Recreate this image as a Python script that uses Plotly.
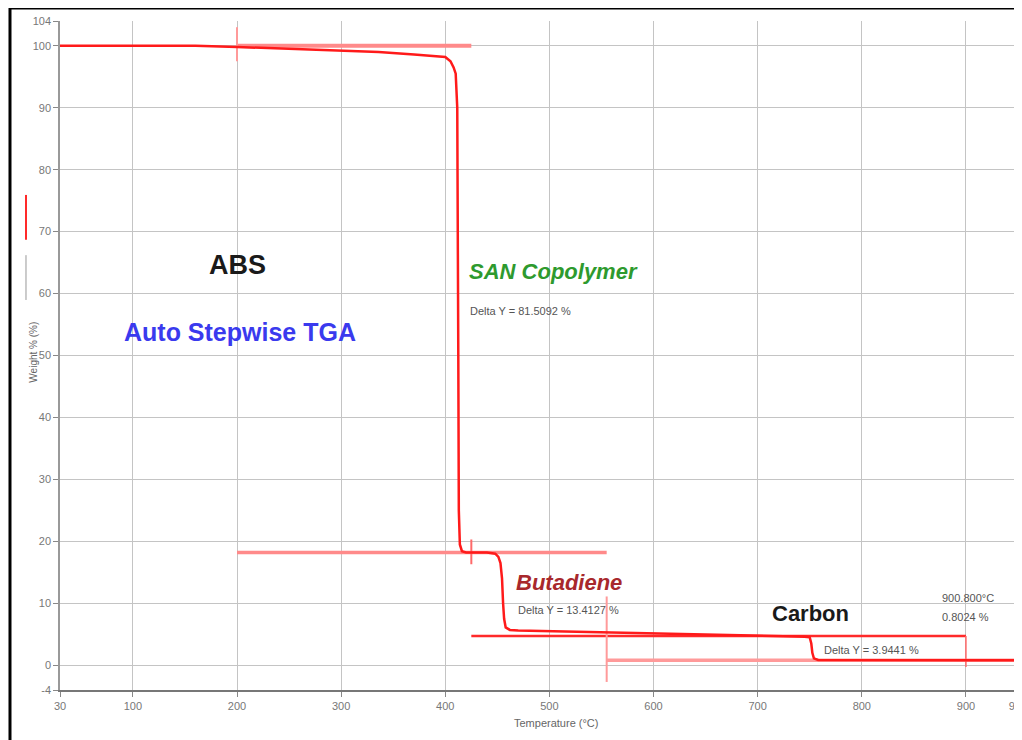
import plotly.graph_objects as go

# ---- data ----
temp_c = [30, 100, 160, 200, 250, 300, 336, 370, 400, 405, 408, 410, 411.5, 412.5, 413, 414, 416,
          420, 440, 448, 451, 453, 454.5, 455.5, 456.5, 458, 462, 470, 500, 550, 600, 650,
          700, 745, 750, 751.5, 752.5, 754, 758, 800, 900, 950]
weight_pct = [100, 100, 100, 99.8, 99.5, 99.2, 99.0, 98.6, 98.2, 97.5, 96.5, 95.5, 90, 50, 25, 19.5, 18.4,
              18.2, 18.2, 18.0, 17.5, 16.5, 14, 10, 7.5, 6.1, 5.7, 5.6, 5.5, 5.3, 5.1, 4.9,
              4.8, 4.6, 4.5, 3.5, 2.0, 1.1, 0.85, 0.8, 0.8, 0.8]

# step-analysis helper lines: (x list, y list, colour, width)
step_x = [[200, 425], [200, 200], [200, 555], [425, 425], [425, 900], [555, 555], [555, 950], [900, 900]]
step_y = [[100, 100], [97.5, 103], [18.2, 18.2], [16.3, 20.3], [4.7, 4.7], [-2.7, 11.1], [0.8, 0.8], [4.7, -0.3]]
step_color = ["#ff8a8a", "#ff9a9a", "#ff8a8a", "#ff6a6a", "#ff2a2a", "#ff9a9a", "#ff9a9a", "#ff6a6a"]
step_width = [4, 2, 3.5, 2, 2.5, 2, 3.5, 1.5]

x_ticks = [30, 100, 200, 300, 400, 500, 600, 700, 800, 900, 950]
y_ticks = [-4, 0, 10, 20, 30, 40, 50, 60, 70, 80, 90, 100, 104]

labels = [
    # text, x, y, size, colour, bold, italic, anchor
    ("ABS", 200, 64.6, 27, "#1a1a1a", True, False, "center"),
    ("Auto Stepwise TGA", 203, 53.8, 25, "#3a3aee", True, False, "center"),
    ("SAN Copolymer", 504, 63.5, 22, "#2e9a2e", True, True, "center"),
    ("Delta Y = 81.5092 %", 421.8, 57.2, 11, "#555555", False, False, "left"),
    ("Butadiene", 519, 13.3, 22, "#a8282c", True, True, "center"),
    ("Delta Y = 13.4127 %", 467.9, 8.9, 11, "#555555", False, False, "left"),
    ("Carbon", 751, 8.4, 22, "#1a1a1a", True, False, "center"),
    ("Delta Y = 3.9441 %", 761.8, 2.5, 11, "#555555", False, False, "left"),
    ("900.800°C", 875, 10.8, 11, "#555555", False, False, "left"),
    ("0.8024 %", 875, 7.8, 11, "#555555", False, False, "left"),
]

fig = go.Figure()

for xs, ys, c, w in zip(step_x, step_y, step_color, step_width):
    fig.add_trace(go.Scatter(x=xs, y=ys, mode="lines", line=dict(color=c, width=w),
                             showlegend=False, hoverinfo="skip"))

fig.add_trace(go.Scatter(x=temp_c, y=weight_pct, mode="lines",
                         line=dict(color="#ff1a1a", width=2.5), showlegend=False))

for t, x, y, s, c, b, it, anc in labels:
    txt = t
    if b:
        txt = "<b>" + txt + "</b>"
    if it:
        txt = "<i>" + txt + "</i>"
    fig.add_annotation(x=x, y=y, xref="x", yref="y", text=txt, showarrow=False,
                       xanchor=anc, yanchor="middle",
                       font=dict(family="Liberation Sans, Arial", size=s, color=c))

# axis titles
fig.add_annotation(x=0.518, y=-0.061, xref="paper", yref="paper", text="Temperature (°C)",
                   showarrow=False, font=dict(family="Liberation Sans", size=11, color="#666"))
fig.add_annotation(x=-0.0355, y=0.505, xref="paper", yref="paper", text="Weight % (%)",
                   textangle=-90, showarrow=False,
                   font=dict(family="Liberation Sans", size=10, color="#666"))

# legend-like marks beside the y title
fig.add_shape(type="line", xref="paper", yref="paper", x0=-0.0355, x1=-0.0355, y0=0.673, y1=0.740,
              line=dict(color="#ff2a2a", width=2))
fig.add_shape(type="line", xref="paper", yref="paper", x0=-0.0355, x1=-0.0355, y0=0.583, y1=0.650,
              line=dict(color="#999", width=1))
# outer frame
fig.add_shape(type="rect", xref="paper", yref="paper", x0=-0.0522, x1=1.0035, y0=-0.09, y1=1.0194,
              line=dict(color="black", width=3))

fig.update_xaxes(range=[30, 950], tickvals=x_ticks, ticktext=[str(v) for v in x_ticks],
                 showgrid=True, gridcolor="#c4c4c4", gridwidth=1,
                 showline=True, linecolor="#777", linewidth=2, automargin=False,
                 ticks="outside", ticklen=5, tickcolor="#888", ticklabeloverflow="allow",
                 tickfont=dict(family="Liberation Sans", size=11, color="#777"), zeroline=False)
fig.update_yaxes(range=[-4, 104], tickvals=y_ticks, ticktext=[str(v) for v in y_ticks],
                 showgrid=True, gridcolor="#c4c4c4", gridwidth=1,
                 showline=True, linecolor="#999", linewidth=1.5, automargin=False,
                 ticks="outside", ticklen=5, tickcolor="#888",
                 tickfont=dict(family="Liberation Sans", size=11, color="#777"), zeroline=False)

fig.update_layout(width=1014, height=732, margin=dict(l=52, r=4, t=13, b=50),
                  paper_bgcolor="white", plot_bgcolor="white", showlegend=False)

fig.write_html("out.html")
